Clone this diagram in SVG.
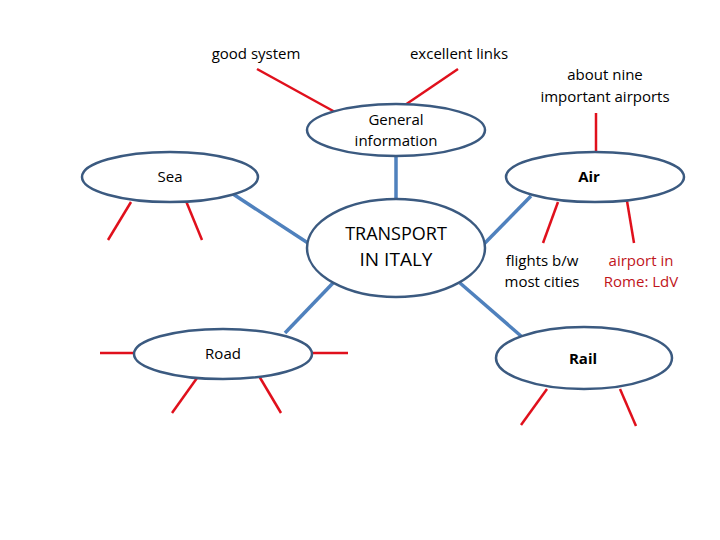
<svg xmlns="http://www.w3.org/2000/svg" width="720" height="540" viewBox="0 0 720 540">
<style>
text{font-family:"Open Sans","Liberation Sans",sans-serif;font-size:15px;fill:#000;text-anchor:middle}
.b{font-weight:bold}
.r{fill:#c0151b}
.node{fill:#fff;stroke:#3b5a80;stroke-width:2.5}
.conn{stroke:#4f81bd;stroke-width:3.5;fill:none}
.red{stroke:#e0101c;stroke-width:2.5;fill:none}
</style>
<rect width="720" height="540" fill="#fff"/>
<g id="connectors">
<line class="conn" x1="396" y1="156" x2="396" y2="199"/>
<line class="conn" x1="233" y1="194" x2="311" y2="245"/>
<line class="conn" x1="483" y1="245" x2="531" y2="196"/>
<line class="conn" x1="333" y1="283" x2="285" y2="333"/>
<line class="conn" x1="460" y1="283" x2="521" y2="336"/>
</g>
<g id="spokes">
<line class="red" x1="257" y1="69" x2="335" y2="112"/>
<line class="red" x1="458" y1="69" x2="405" y2="105"/>
<line class="red" x1="596" y1="113" x2="596" y2="152"/>
<line class="red" x1="131" y1="202" x2="108" y2="240"/>
<line class="red" x1="186" y1="201" x2="202" y2="240"/>
<line class="red" x1="558" y1="202" x2="543" y2="243"/>
<line class="red" x1="627" y1="201" x2="634" y2="243"/>
<line class="red" x1="100" y1="353" x2="134" y2="353"/>
<line class="red" x1="312" y1="353" x2="348" y2="353"/>
<line class="red" x1="197" y1="378" x2="172" y2="413"/>
<line class="red" x1="259" y1="376" x2="281" y2="413"/>
<line class="red" x1="547" y1="389" x2="521" y2="425"/>
<line class="red" x1="620" y1="389" x2="636" y2="426"/>
</g>
<g id="general">
<ellipse class="node" cx="396" cy="130" rx="89" ry="26"/>
<text x="396" y="125">General</text>
<text x="396" y="146">information</text>
</g>
<g id="sea">
<ellipse class="node" cx="170" cy="177" rx="88" ry="25"/>
<text x="170" y="182">Sea</text>
</g>
<g id="air">
<ellipse class="node" cx="595" cy="177" rx="89" ry="25"/>
<text x="589" y="182" class="b">Air</text>
</g>
<g id="transport">
<ellipse class="node" cx="396" cy="248" rx="89" ry="49"/>
<text x="396" y="240" style="font-size:18px">TRANSPORT</text>
<text x="396" y="266" style="font-size:19px">IN ITALY</text>
</g>
<g id="road">
<ellipse class="node" cx="223" cy="354" rx="89" ry="25"/>
<text x="223" y="359">Road</text>
</g>
<g id="rail">
<ellipse class="node" cx="584" cy="358" rx="88" ry="31"/>
<text x="583" y="364" class="b">Rail</text>
</g>
<g id="labels">
<text x="256" y="59">good system</text>
<text x="459" y="59">excellent links</text>
<text x="605" y="80">about nine</text>
<text x="605" y="102">important airports</text>
<text x="542" y="266">flights b/w</text>
<text x="542" y="287">most cities</text>
<text x="641" y="266" class="r">airport in</text>
<text x="641" y="287" class="r">Rome: LdV</text>
</g>
</svg>
